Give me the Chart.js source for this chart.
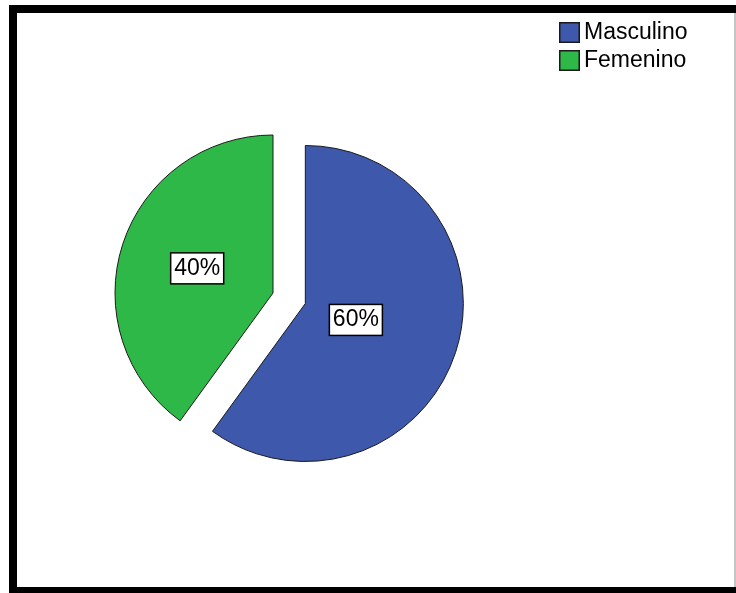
<!DOCTYPE html>
<html>
<head>
<meta charset="utf-8">
<script src="https://cdn.jsdelivr.net/npm/chart.js@4/dist/chart.umd.min.js"></script>
<style>
    body { margin: 0; background: #fff; overflow: hidden; }
    #marco {
        position: absolute; left: 9px; top: 5px;
        width: 760px; height: 574px;
        border: 8px solid #000; border-right: none;
    }
    #linea {
        position: absolute; left: 734px; top: 13px;
        width: 2px; height: 574px; background: #c4c4c4;
    }
    #graficoSexo { position: absolute; left: 0; top: 0; }
</style>
</head>
<body>
<div id="marco"></div>
<div id="linea"></div>
<canvas id="graficoSexo" width="736" height="593"></canvas>
<script>
var categorias = ["Masculino", "Femenino"];
var porcentajes = [60, 40];
var colores = ['#3e58ac', '#2eb848'];
var separacion = [34, 0];   // desplazamiento de cada porcion (explode)

var fuente = '"Liberation Sans", Arial, sans-serif';

// saca las porciones hacia afuera sobre su angulo medio
var pluginSeparar = {
    id: 'separar',
    afterDatasetsUpdate: function (chart) {
        var arcos = chart.getDatasetMeta(0).data;
        arcos.forEach(function (arco, i) {
            var d = separacion[i] || 0;
            var medio = (arco.startAngle + arco.endAngle) / 2;
            arco.x += Math.cos(medio) * d;
            arco.y += Math.sin(medio) * d;
        });
    }
};

// etiquetas de porcentaje en el centroide de cada porcion
var pluginEtiquetas = {
    id: 'etiquetas',
    afterDatasetsDraw: function (chart) {
        var ctx = chart.ctx;
        var datos = chart.data.datasets[0].data;
        var total = datos.reduce(function (a, b) { return a + b; }, 0);
        ctx.save();
        ctx.font = '23px ' + fuente;
        ctx.textAlign = 'center';
        ctx.textBaseline = 'middle';
        chart.getDatasetMeta(0).data.forEach(function (arco, i) {
            var alfa = arco.endAngle - arco.startAngle;
            var medio = (arco.startAngle + arco.endAngle) / 2;
            var dist = 2 * arco.outerRadius * Math.sin(alfa / 2) / (1.5 * alfa);
            var x = arco.x + Math.cos(medio) * dist;
            var y = arco.y + Math.sin(medio) * dist;
            var texto = Math.round(datos[i] / total * 100) + '%';
            var w = ctx.measureText(texto).width + 7;
            var h = 31;
            ctx.fillStyle = '#fff';
            ctx.fillRect(x - w / 2, y - h / 2, w, h);
            ctx.lineWidth = 1.5;
            ctx.strokeStyle = '#000';
            ctx.strokeRect(x - w / 2, y - h / 2, w, h);
            ctx.fillStyle = '#000';
            ctx.fillText(texto, x, y);
        });
        ctx.restore();
    }
};

// leyenda arriba a la derecha
var pluginLeyenda = {
    id: 'leyenda',
    afterDraw: function (chart) {
        var ctx = chart.ctx;
        var ds = chart.data.datasets[0];
        ctx.save();
        ctx.font = '23px ' + fuente;
        ctx.textBaseline = 'middle';
        chart.data.labels.forEach(function (etiqueta, i) {
            var y = 22 + i * 28;
            ctx.fillStyle = ds.backgroundColor[i];
            ctx.fillRect(559, y, 21, 21);
            ctx.lineWidth = 1.5;
            ctx.strokeStyle = '#1a1a1a';
            ctx.strokeRect(559.75, y + 0.75, 19.5, 19.5);
            ctx.fillStyle = '#000';
            ctx.fillText(etiqueta, 584, y + 11);
        });
        ctx.restore();
    }
};

window.onload = function () {
    var ctx = document.getElementById("graficoSexo");
    var grafico = new Chart(ctx, {
        type: 'pie',
        data: {
            labels: categorias,
            datasets: [{
                    label: 'Sexo',
                    data: porcentajes,
                    backgroundColor: colores,
                    borderColor: '#1a1a1a',
                    borderWidth: 1
                }]
        },
        options: {
            responsive: false,
            animation: false,
            radius: 158,
            layout: {
                padding: { left: 100, right: 290, top: 120, bottom: 127 }
            },
            plugins: {
                legend: { display: false },
                tooltip: { enabled: false }
            }
        },
        plugins: [pluginSeparar, pluginEtiquetas, pluginLeyenda]
    });
};
</script>
</body>
</html>
